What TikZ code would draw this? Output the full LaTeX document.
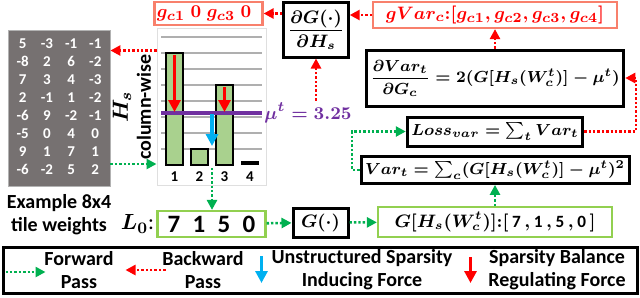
\documentclass[tikz,border=0pt]{standalone}
\usepackage[no-math]{fontspec}
\setmainfont{Carlito}
\usepackage{amsmath,amssymb}
\usepackage{xcolor}
\usepackage{tikz}
\usetikzlibrary{arrows.meta,positioning,calc}
\definecolor{tilegray}{RGB}{118,113,113}
\definecolor{bargreen}{RGB}{169,209,142}
\definecolor{boxgreen}{RGB}{146,208,80}
\definecolor{fwdgreen}{RGB}{0,176,80}
\definecolor{meanpurple}{RGB}{112,48,160}
\definecolor{forceblue}{RGB}{0,176,240}
\definecolor{gradsalmon}{RGB}{248,128,108}
\definecolor{gridgray}{RGB}{175,175,175}

\begin{document}
\begin{tikzpicture}[
  x = 0.5pt, y = -0.5pt,
  eqbox/.style = {rectangle, draw=black, line width=1.5pt, inner sep=2pt,
                  font=\fontsize{8.4}{10}\selectfont\boldmath},
  gradbox/.style = {rectangle, draw=gradsalmon, line width=1.1pt, inner sep=2pt,
                    text=red, font=\fontsize{9.5}{11}\selectfont\boldmath},
  valbox/.style = {rectangle, draw=boxgreen, line width=1.1pt, inner sep=2pt,
                   font=\fontsize{8.6}{10}\selectfont\boldmath},
  lbl/.style = {align=center, inner sep=0pt,
                font=\fontsize{10}{11.5}\selectfont\bfseries\boldmath},
  barnum/.style = {inner sep=0pt, font=\fontsize{7.5}{9}\selectfont\bfseries},
  bar/.style = {fill=bargreen, draw=black, line width=1.3pt},
  fwd/.style = {-{Triangle[length=5pt,width=5pt]}, fwdgreen, line width=1.3pt,
                dash pattern=on 1.2pt off 1pt},
  bwd/.style = {-{Triangle[length=5pt,width=5pt]}, red, line width=1.3pt,
                dash pattern=on 1.2pt off 1pt},
  force/.style = {-{Triangle[length=6pt,width=6pt]}, line width=1.6pt},
]
\useasboundingbox (0,0) rectangle (640,297);

% tile weights
\node[fill=tilegray, draw=gray!60, inner sep=0pt, minimum width=51pt,
      minimum height=78pt, text=white,
      font=\fontsize{7.5}{9}\selectfont\bfseries] (tile) at (59,108) {%
  \setlength{\tabcolsep}{3pt}\renewcommand{\arraystretch}{1}%
  \begin{tabular}{cccc}
  5 & -3 & -1 & -1\\
  -8 & 2 & 6 & -2\\
  7 & 3 & 4 & -3\\
  2 & -1 & 1 & -2\\
  -6 & 9 & -2 & -1\\
  -5 & 0 & 4 & 0\\
  9 & 1 & 7 & 1\\
  -6 & -2 & 5 & 2
  \end{tabular}};
\node[lbl, below=4pt of tile] (tilelbl) {Example 8x4\\tile weights};

% column-wise chart
\node[draw=gray!25, line width=0.5pt, inner sep=0pt, minimum width=54.5pt,
      minimum height=78.5pt] (chart) at (211.5,106.5) {};
\foreach \gy in {37,53,...,149}
  \draw[gridgray, line width=1.3pt] (161,\gy) -- (262,\gy);
\draw[bar] (166,165) rectangle (183,53);
\draw[bar] (191,165) rectangle (208,149);
\draw[bar] (216,165) rectangle (233,85);
\fill (241,161) rectangle (259,165);
\node[barnum] (n1) at (174.5,177) {1};
\node[barnum] (n2) at (199.5,177) {2};
\node[barnum] (n3) at (224.5,177) {3};
\node[barnum] (n4) at (250,177) {4};
\draw[meanpurple, line width=1.6pt] (161,113) -- (262,113);
\draw[force, red] (174.5,55) -- (174.5,112);
\draw[force, red] (224.5,87) -- (224.5,112);
\draw[force, forceblue] (212,114) -- (212,146);
\node[lbl, rotate=90] (hs) at (132,107) {{\fontsize{11}{11}\selectfont$H_s$}\\column-wise};
\node[text=meanpurple, inner sep=1pt, font=\fontsize{9.5}{11}\selectfont\boldmath]
  (mu) at (308,113) {$\mu^t = 3.25$};
\coordinate (chartout) at (212,168);

% backward chain
\node[gradbox] (gsel) at (208.5,13.5) {%
  \makebox[12.5pt]{$g_{c1}$}\makebox[12.5pt]{$0$}\makebox[12.5pt]{$g_{c3}$}\makebox[12.5pt]{$0$}};
\node[eqbox, font=\fontsize{9}{10}\selectfont\boldmath, minimum width=29pt,
      minimum height=27.5pt] (dG) at (316,29.5)
  {$\dfrac{\partial G(\cdot)}{\partial H_s}$};
\node[gradbox, minimum width=122pt, minimum height=13pt] (gvar) at (495,15)
  {$gVar_c{:}[g_{c1},g_{c2},g_{c3},g_{c4}]$};
\node[eqbox, minimum width=128pt, minimum height=28pt] (dvar) at (495,78)
  {$\dfrac{\partial Var_t}{\partial G_c} = 2(G[H_s(W_c^t)] - \mu^t)$};
\node[eqbox, minimum width=85pt, minimum height=14.5pt] (loss) at (495,131.5)
  {$Loss_{var} = \sum_t Var_t$};
\node[eqbox, minimum width=130pt, minimum height=12pt] (var) at (495,170)
  {$Var_t = \sum_c(G[H_s(W_c^t)] - \mu^t)^2$};

% forward chain
\node[valbox, minimum width=48.5pt, minimum height=13pt,
      font=\fontsize{12.5}{13}\selectfont\bfseries] (l0box) at (211.5,224) {%
  \makebox[12.5pt]{7}\makebox[12.5pt]{1}\makebox[12.5pt]{5}\makebox[12.5pt]{0}};
\node[lbl, font=\fontsize{11}{12}\selectfont\boldmath, left=1pt of l0box] (l0lbl) {$L_0$:};
\node[eqbox, font=\fontsize{9}{10}\selectfont\boldmath, minimum width=27.5pt,
      minimum height=14.5pt] (gdot) at (320.5,222.5) {$G(\cdot)$};
\node[valbox, minimum width=117pt, minimum height=15pt] (gh) at (495,222)
  {$G[H_s(W_c^t)]{:}[\,\textbf{7}\,,\textbf{1}\,,\textbf{5}\,,\textbf{0}\,]$};
\coordinate (lossleft) at (352,131.5);
\coordinate (dvarright) at (636,78);

\draw[fwd] ([yshift=-28pt]tile.east) -- ([yshift=-28pt]tile.east -| chart.west);
\draw[fwd] (chartout) -- (chartout |- l0box.north);
\draw[fwd] (l0box) -- (gdot);
\draw[fwd] (gdot) -- (gh);
\draw[fwd] (gh) -- (var);
\draw[fwd] (var.west) -| (lossleft) -- (loss.west);
\draw[bwd] (loss.east) -| (dvarright) -- (dvar.east);
\draw[bwd] (dvar) -- (gvar);
\draw[bwd] (gvar.west) -- (gvar.west -| dG.east);
\draw[bwd] (dG.south |- mu.north) -- (dG.south);
\draw[bwd] (dG.west |- gsel.east) -- (gsel.east);
\draw[bwd] ([yshift=28pt]chart.west) -- ([yshift=28pt]chart.west -| tile.east);

% legend
\node[draw, line width=1.5pt, minimum width=317pt, minimum height=23pt] (legend) at (320,270) {};
\draw[fwd] ([xshift=2pt,yshift=-1pt]legend.west) -- ++(40,0);
\node[lbl] (fwdtxt) at (79,270) {Forward\\Pass};
\draw[bwd] ([xshift=82pt]legend.west) -- ++(-40,0);
\node[lbl] (bwdtxt) at (203,270) {Backward\\Pass};
\draw[force, forceblue] ([xshift=130pt,yshift=7pt]legend.west) -- ++(0,27);
\node[lbl] (usftxt) at (362,270) {Unstructured Sparsity\\Inducing Force};
\draw[force, red] ([xshift=234.5pt,yshift=6.5pt]legend.west) -- ++(0,26);
\node[lbl] (sbrtxt) at (557,270) {Sparsity Balance\\Regulating Force};
\end{tikzpicture}
\end{document}
